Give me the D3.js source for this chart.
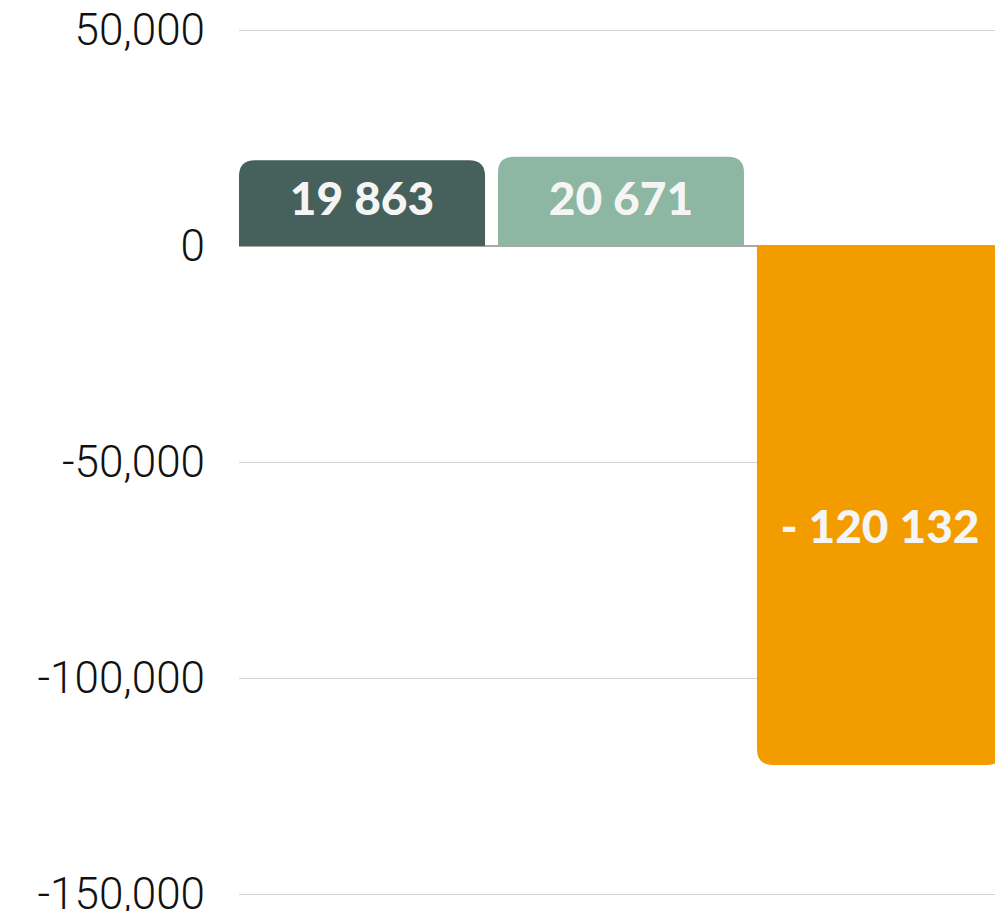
<!DOCTYPE html>
<html>
<head>
<meta charset="utf-8">
<script src="https://cdn.jsdelivr.net/npm/d3@7"></script>
<style>
  html, body { margin: 0; padding: 0; background: #fff; overflow: hidden; }
  .tick text { font-family: Roboto, "Liberation Sans", sans-serif; font-weight: 300; }
</style>
</head>
<body>
<div id="chart"></div>
<script>
// data
var categories = ["A", "B", "C"];
var values = [19863, 20671, -120132];
var labels = ["19 863", "20 671", "- 120 132"];
var labelAt = [11000, 11000, -65000];   // where each value label sits, in data units
var colors = ["#46615b", "#8db6a3", "#f39c00"];
var yTicks = [50000, 0, -50000, -100000, -150000];

// set the dimensions and margins of the graph
var margin = {top: 30, right: 0, bottom: 17, left: 239},
    width = 764,
    height = 911 - margin.top - margin.bottom;

var x = d3.scaleBand()
    .domain(categories)
    .range([0, width])
    .paddingInner(0.05)
    .paddingOuter(0);

var y = d3.scaleLinear()
    .domain([-150000, 50000])
    .range([height, 0]);

var svg = d3.select("#chart").append("svg")
    .attr("width", 995)
    .attr("height", 911)
  .append("g")
    .attr("transform", "translate(" + margin.left + "," + margin.top + ")");

// plain hyphen for negatives, like the original
var fmt = d3.format(",");
function tickFmt(d) { return fmt(d).replace("\u2212", "-"); }

// y axis with gridlines
var yAxis = svg.append("g")
    .call(d3.axisLeft(y)
      .tickValues(yTicks)
      .tickSize(-width)
      .tickPadding(34)
      .tickFormat(tickFmt));

yAxis.select(".domain").remove();
yAxis.selectAll(".tick line")
    .attr("stroke", "#d2d2d2")
    .attr("stroke-width", 1);
yAxis.selectAll(".tick text")
    .attr("fill", "#111")
    .style("font-size", "44px");

// bar with rounded corners at the far end only
function barPath(d, i) {
  var r = 16,
      x0 = x(categories[i]),
      x1 = x0 + x.bandwidth(),
      y0 = y(0),
      y1 = y(d);
  if (d >= 0) {
    return "M" + x0 + "," + y0 +
      "V" + (y1 + r) +
      "Q" + x0 + "," + y1 + " " + (x0 + r) + "," + y1 +
      "H" + (x1 - r) +
      "Q" + x1 + "," + y1 + " " + x1 + "," + (y1 + r) +
      "V" + y0 + "Z";
  }
  return "M" + x0 + "," + y0 +
    "V" + (y1 - r) +
    "Q" + x0 + "," + y1 + " " + (x0 + r) + "," + y1 +
    "H" + (x1 - r) +
    "Q" + x1 + "," + y1 + " " + x1 + "," + (y1 - r) +
    "V" + y0 + "Z";
}

// zero line
svg.append("line")
    .attr("x1", 0)
    .attr("x2", width)
    .attr("y1", y(0))
    .attr("y2", y(0))
    .attr("stroke", "#a8a8a8")
    .attr("stroke-width", 2);

svg.selectAll(".bar")
    .data(values)
  .enter().append("path")
    .attr("class", "bar")
    .attr("fill", function(d, i) { return colors[i]; })
    .attr("d", barPath);

svg.selectAll(".label")
    .data(values)
  .enter().append("text")
    .attr("class", "label")
    .attr("x", function(d, i) { return x(categories[i]) + x.bandwidth() / 2; })
    .attr("y", function(d, i) { return y(labelAt[i]); })
    .attr("dy", "0.36em")
    .attr("text-anchor", "middle")
    .attr("fill", "#f5f5f5")
    .style("font-family", "Lato, Roboto, sans-serif")
    .style("font-weight", 900)
    .style("font-size", "46px")
    .text(function(d, i) { return labels[i]; });
</script>
</body>
</html>
